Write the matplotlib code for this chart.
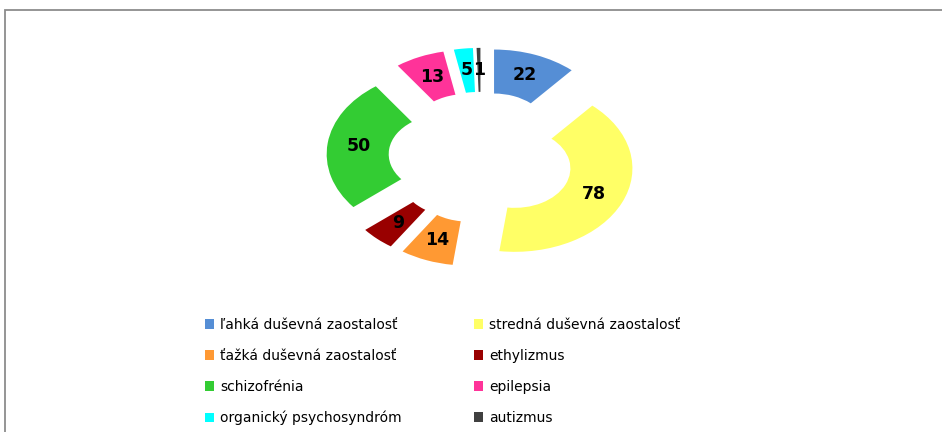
import matplotlib
matplotlib.use("Agg")
import matplotlib.pyplot as plt
from matplotlib.patches import Rectangle

# --- data ---
kategorie = ["ľahká duševná zaostalosť", "stredná duševná zaostalosť",
             "ťažká duševná zaostalosť", "ethylizmus", "schizofrénia",
             "epilepsia", "organický psychosyndróm", "autizmus"]
pocty = [22, 78, 14, 9, 50, 13, 5, 1]
farby = ["#558ED5", "#FFFF66", "#FF9933", "#990000", "#33CC33",
         "#FF3399", "#00FFFF", "#404040"]

spolu = sum(pocty)

fig = plt.figure(figsize=(9.42, 4.32), dpi=100)

# ram okolo grafu
fig.add_artist(Rectangle((5 / 942, -0.2), 1.2, 1.2 - 10 / 432,
                         transform=fig.transFigure, fill=False,
                         edgecolor="#8c8c8c", lw=1.3))

ax = fig.add_axes([0.3357, 0.3648, 0.3499, 0.541])

r_in = 0.473
wedges, texty, cisla = ax.pie(
    pocty, colors=farby, startangle=90, counterclock=False,
    explode=[0.314] * len(pocty),
    wedgeprops=dict(width=1 - r_in, linewidth=0),
    autopct=lambda p: f"{round(p * spolu / 100)}",
    pctdistance=(1 + r_in) / 2,
    textprops=dict(fontsize=12.5, fontweight="bold", color="black"))

ax.set_aspect("auto")
ax.set_xlim(-1.4, 1.4)
ax.set_ylim(-1.4, 1.4)
ax.axis("off")

# legenda po riadkoch (matplotlib plni po stlpcoch)
poradie = [0, 2, 4, 6, 1, 3, 5, 7]
fig.legend([wedges[i] for i in poradie], [kategorie[i] for i in poradie],
           ncol=2, loc="upper left", bbox_to_anchor=(0.2176, 0.264),
           frameon=False, fontsize=10, handlelength=0.65, handleheight=0.65,
           handletextpad=0.45, labelspacing=1.22, columnspacing=5.16,
           borderpad=0, borderaxespad=0)

fig.savefig("out.png", dpi=100)
